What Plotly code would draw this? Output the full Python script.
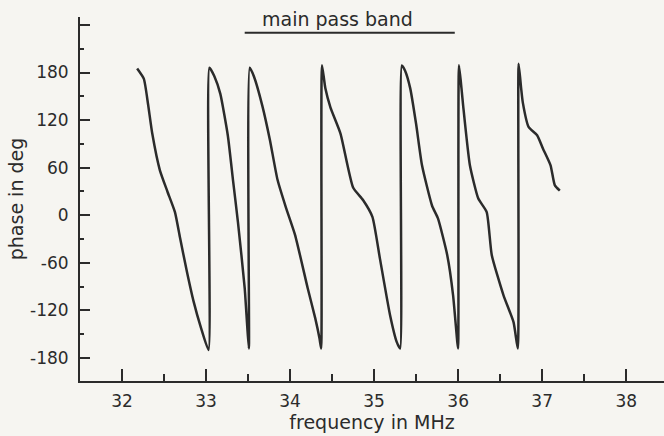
import plotly.graph_objects as go

# ---- data ----
freq_mhz = [
    32.18, 32.26, 32.31, 32.36, 32.45, 32.54, 32.63, 32.69, 32.77, 32.85, 32.94, 33.03,
    33.04, 33.10, 33.17, 33.26, 33.32, 33.38, 33.46, 33.49, 33.51,
    33.52, 33.57, 33.67, 33.76, 33.85, 33.95, 34.06, 34.21, 34.30, 34.35, 34.37,
    34.38, 34.42, 34.48, 34.60, 34.75, 34.87, 34.98, 35.07, 35.19, 35.27, 35.31,
    35.33, 35.37, 35.43, 35.50, 35.57, 35.69, 35.76, 35.87, 35.94, 35.99, 36.00,
    36.01, 36.04, 36.06, 36.14, 36.24, 36.34, 36.40, 36.54, 36.66, 36.71,
    36.72, 36.75, 36.77, 36.84, 36.94, 37.01, 37.10, 37.15, 37.21,
]
phase_deg = [
    185, 172, 140, 103, 57, 30, 4, -28, -70, -108, -142, -170,
    186, 175, 153, 100, 45, -9, -92, -140, -168,
    186, 175, 138, 95, 45, 10, -25, -92, -130, -155, -168,
    189, 160, 136, 103, 35, 19, -2, -55, -126, -160, -168,
    189, 182, 160, 115, 63, 12, -4, -50, -101, -160, -168,
    189, 160, 138, 63, 21, 4, -50, -101, -135, -168,
    191, 160, 142, 111, 101, 84, 63, 38, 31,
]

x_ticks = [32, 33, 34, 35, 36, 37, 38]
y_ticks = [-180, -120, -60, 0, 60, 120, 180, 240]
y_tick_text = ["-180", "-120", "-60", "0", "60", "120", "180", ""]
passband_mhz = [33.46, 35.96]
passband_label = "main pass band"

FONT = "DejaVu Sans"
INK = "#2b2b2b"
BG = "#f6f5f1"
FS = 17
FT = 19

fig = go.Figure()
fig.add_trace(go.Scatter(
    x=freq_mhz, y=phase_deg, mode="lines",
    line=dict(color=INK, width=2.5, shape="spline", smoothing=0.5),
    hoverinfo="skip", showlegend=False,
))

fig.add_shape(type="line", xref="x", yref="y",
              x0=passband_mhz[0], x1=passband_mhz[1], y0=230, y1=230,
              line=dict(color=INK, width=2))
fig.add_annotation(xref="x", yref="paper", x=sum(passband_mhz) / 2, y=1.0,
                   yanchor="middle", yshift=-2, xshift=-12, text=passband_label,
                   showarrow=False, font=dict(family=FONT, size=FT, color=INK))

fig.update_layout(
    width=664, height=436,
    margin=dict(l=80, r=0, t=17, b=55),
    paper_bgcolor=BG, plot_bgcolor=BG,
    font=dict(family=FONT, size=FS, color=INK),
)
fig.update_xaxes(
    range=[31.5, 38.45], showgrid=False, zeroline=False, automargin=False,
    showline=True, linecolor=INK, linewidth=2,
    tickvals=x_ticks, ticks="inside", ticklen=12, tickwidth=1.5, tickcolor=INK,
    minor=dict(dtick=0.5, tick0=31.5, ticks="inside", ticklen=7, tickwidth=1.5, tickcolor=INK),
    ticklabelstandoff=4,
    title=dict(text="frequency in MHz", standoff=0, font=dict(family=FONT, size=FT)),
    tickfont=dict(family=FONT, size=FS),
)
fig.update_yaxes(
    range=[-209, 250], showgrid=False, zeroline=False, automargin=False,
    showline=True, linecolor=INK, linewidth=2,
    tickvals=y_ticks, ticktext=y_tick_text,
    ticks="inside", ticklen=10, tickwidth=1.5, tickcolor=INK,
    minor=dict(dtick=30, tick0=0, ticks="inside", ticklen=4, tickwidth=1.5, tickcolor=INK),
    ticklabelstandoff=6,
    title=dict(text="phase in deg", standoff=1, font=dict(family=FONT, size=FT)),
    tickfont=dict(family=FONT, size=FS),
)

fig.write_html(
    "out.html",
    config={"displayModeBar": False},
    post_script="document.body.style.margin='0';document.body.style.background='%s';" % BG,
)
